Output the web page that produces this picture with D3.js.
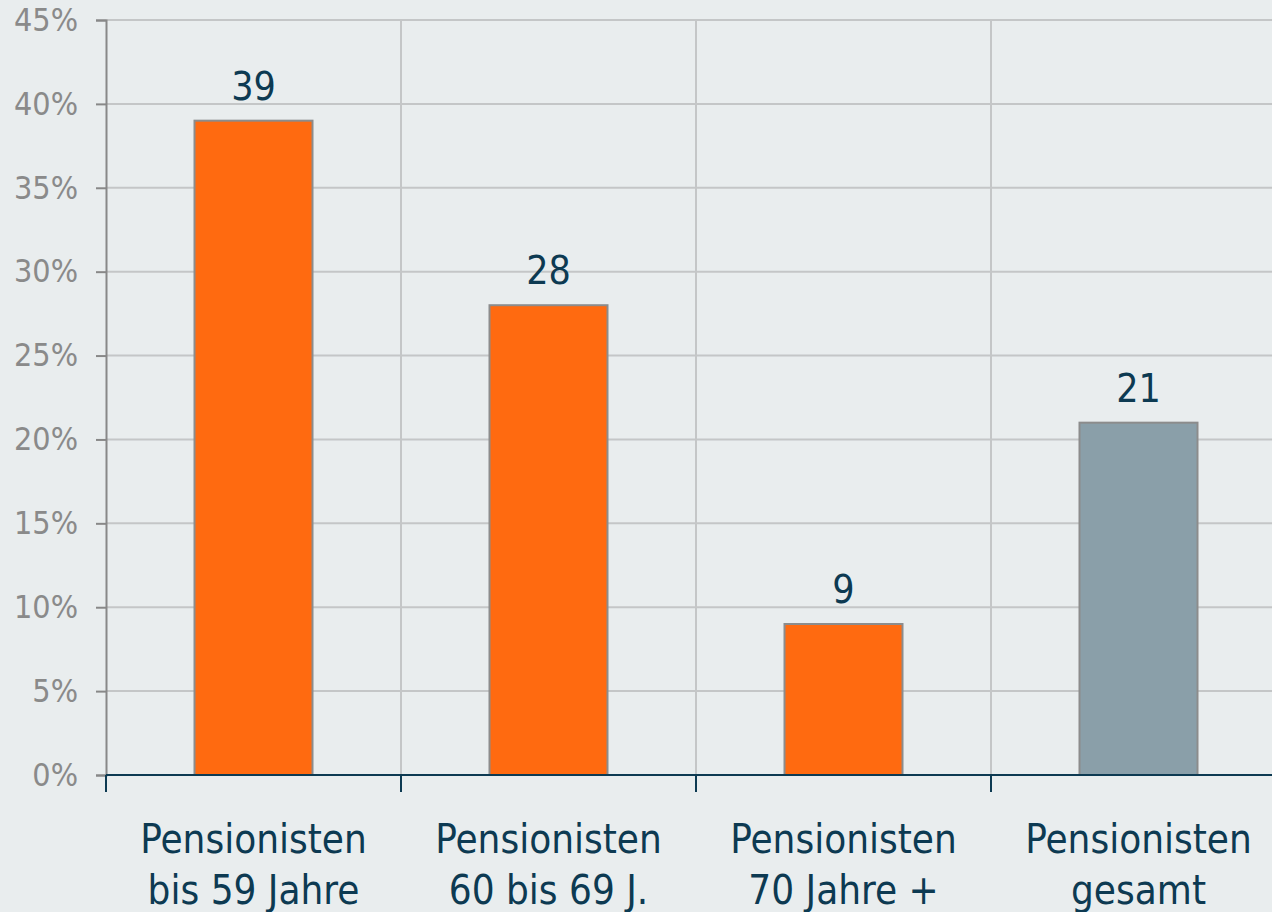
<!DOCTYPE html>
<html>
<head>
<meta charset="utf-8">
<script src="https://cdn.jsdelivr.net/npm/d3@7.9.0/dist/d3.min.js"></script>
<style>
  html, body { margin: 0; padding: 0; background: #e9edee; }
  svg { display: block; }
</style>
</head>
<body>
<svg width="1272" height="912"></svg>
<script>
// data
const categories = [
  ['Pensionisten', 'bis 59 Jahre'],
  ['Pensionisten', '60 bis 69 J.'],
  ['Pensionisten', '70 Jahre +'],
  ['Pensionisten', 'gesamt']
];
const values = [39, 28, 9, 21];
const barColors = ['#ff6a10', '#ff6a10', '#ff6a10', '#8a9fa9'];
const yTicks = [0, 5, 10, 15, 20, 25, 30, 35, 40, 45];

const svg = d3.select('svg');
const navy = '#0d3a52';
const font = "'DejaVu Sans Condensed', 'DejaVu Sans', Verdana, sans-serif";

let x = d3.scaleBand()
  .domain(d3.range(categories.length))
  .range([106, 106 + 4 * 295])
  .paddingInner(0)
  .paddingOuter(0);

let y = d3.scaleLinear().domain([0, 45]).range([775, 20]);

// horizontal grid
svg.append('g')
  .selectAll('line')
  .data(yTicks.filter(d => d > 0))
  .join('line')
  .attr('x1', 106).attr('x2', 1272)
  .attr('y1', d => y(d)).attr('y2', d => y(d))
  .attr('stroke', '#c4c6c7').attr('stroke-width', 2);

// vertical grid at category boundaries
svg.append('g')
  .selectAll('line')
  .data(d3.range(1, categories.length))
  .join('line')
  .attr('x1', d => x(d)).attr('x2', d => x(d))
  .attr('y1', y(45)).attr('y2', y(0))
  .attr('stroke', '#c4c6c7').attr('stroke-width', 2);

// bars
let bw = x.bandwidth() * 0.4;
svg.append('g')
  .selectAll('rect')
  .data(values)
  .join('rect')
  .attr('x', (d, i) => x(i) + x.bandwidth() / 2 - bw / 2)
  .attr('y', d => y(d))
  .attr('width', bw)
  .attr('height', d => y(0) - y(d))
  .attr('fill', (d, i) => barColors[i])
  .attr('stroke', '#8c8c8c')
  .attr('stroke-width', 2);

// value labels
svg.append('g')
  .selectAll('text')
  .data(values)
  .join('text')
  .attr('x', (d, i) => x(i) + x.bandwidth() / 2)
  .attr('y', d => y(d) - 21)
  .attr('text-anchor', 'middle')
  .attr('font-family', font)
  .attr('font-size', 39)
  .attr('fill', navy)
  .text(d => d);

// y axis
let yAxis = svg.append('g')
  .attr('transform', 'translate(106,0)')
  .call(d3.axisLeft(y).tickValues(yTicks).tickFormat(d => d + '%').tickSize(10).tickPadding(18));
yAxis.select('.domain').attr('stroke', '#888').attr('stroke-width', 2);
yAxis.selectAll('.tick line').attr('stroke', '#888').attr('stroke-width', 2);
yAxis.selectAll('.tick text')
  .attr('font-family', font)
  .attr('font-size', 32)
  .attr('fill', '#8a8a8a');

// x axis line + ticks at boundaries
svg.append('line')
  .attr('x1', 106).attr('x2', 1272)
  .attr('y1', y(0)).attr('y2', y(0))
  .attr('stroke', navy).attr('stroke-width', 2);
svg.append('g')
  .selectAll('line')
  .data(d3.range(0, categories.length))
  .join('line')
  .attr('x1', d => x(d)).attr('x2', d => x(d))
  .attr('y1', y(0)).attr('y2', y(0) + 17)
  .attr('stroke', navy).attr('stroke-width', 2);

// category labels
let labels = svg.append('g')
  .selectAll('text')
  .data(categories)
  .join('text')
  .attr('x', (d, i) => x(i) + x.bandwidth() / 2)
  .attr('y', 853)
  .attr('text-anchor', 'middle')
  .attr('font-family', font)
  .attr('font-size', 40)
  .attr('fill', navy);
labels.selectAll('tspan')
  .data(d => d)
  .join('tspan')
  .attr('x', function () { return d3.select(this.parentNode).attr('x'); })
  .attr('dy', (d, i) => i === 0 ? 0 : 51)
  .text(d => d);
</script>
</body>
</html>
